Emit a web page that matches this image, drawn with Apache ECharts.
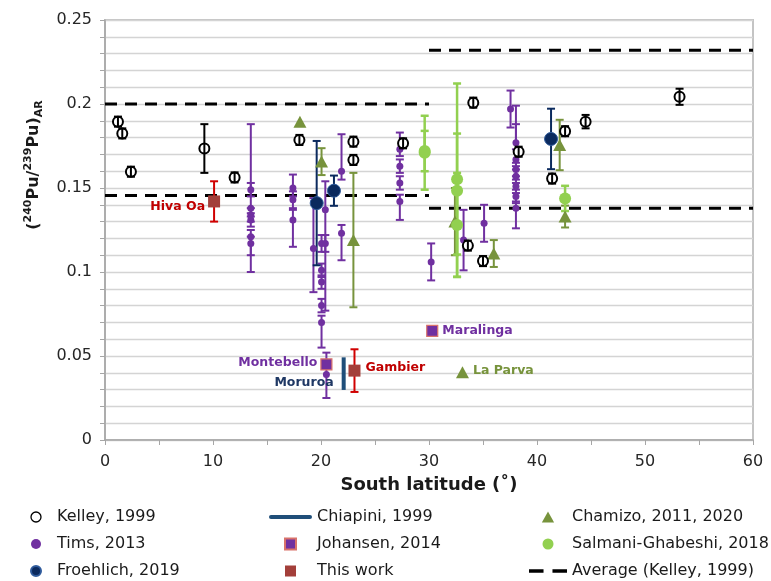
<!DOCTYPE html>
<html>
<head>
<meta charset="utf-8">
<script src="https://cdn.jsdelivr.net/npm/echarts@6/dist/echarts.min.js"></script>
<style>
  html, body { margin: 0; padding: 0; background: #fff; }
  #chart { width: 771px; height: 581px; }
</style>
</head>
<body>
<div id="chart"></div>
<script>
// ---- 240Pu/239Pu atom ratios versus south latitude ----

// Kelley, 1999
const kelleyLat   = [1.2, 1.6, 2.4, 9.2, 12.0, 18.0, 23.0, 23.0, 27.6, 34.1, 33.6, 35.0, 38.3, 41.4, 42.6, 44.5, 53.2];
const kelleyRatio = [0.1895, 0.1825, 0.1597, 0.1735, 0.1563, 0.1786, 0.1776, 0.1667, 0.1766, 0.2008, 0.1157, 0.1065, 0.1716, 0.1556, 0.1838, 0.1895, 0.2043];
const kelleyErr   = [0.003, 0.003, 0.003, 0.0145, 0.003, 0.003, 0.003, 0.003, 0.003, 0.003, 0.003, 0.003, 0.003, 0.003, 0.003, 0.004, 0.0048];

// Tims, 2013
const timsLat      = [13.5, 13.5, 13.5, 13.5, 13.5, 13.5, 17.4, 17.4, 17.4, 19.3, 20.05, 20.05, 20.05, 20.05, 20.05, 20.4, 20.4, 21.9, 21.9, 20.5,
                      27.3, 27.3, 27.3, 27.3, 30.2, 33.2, 35.1, 37.55, 38.05, 38.05, 38.05, 38.05, 38.05, 38.05, 38.05];
const timsRatio    = [0.149, 0.138, 0.134, 0.131, 0.121, 0.117, 0.150, 0.143, 0.131, 0.114, 0.117, 0.101, 0.094, 0.080, 0.070, 0.137, 0.117, 0.160, 0.123, 0.039,
                      0.173, 0.163, 0.153, 0.142, 0.106, 0.119, 0.129, 0.197, 0.177, 0.167, 0.161, 0.157, 0.151, 0.145, 0.138];
const timsErrPlus  = [0.004, 0.050, 0.004, 0.004, 0.004, 0.004, 0.008, 0.005, 0.006, 0.030, 0.005, 0.004, 0.004, 0.004, 0.004, 0.017, 0.005, 0.022, 0.005, 0.013,
                      0.010, 0.004, 0.004, 0.004, 0.011, 0.018, 0.011, 0.011, 0.022, 0.021, 0.004, 0.004, 0.004, 0.004, 0.004];
const timsErrMinus = [0.004, 0.005, 0.004, 0.004, 0.021, 0.007, 0.005, 0.005, 0.016, 0.026, 0.005, 0.004, 0.004, 0.004, 0.015, 0.060, 0.005, 0.005, 0.016, 0.014,
                      0.004, 0.004, 0.004, 0.011, 0.011, 0.018, 0.011, 0.011, 0.004, 0.004, 0.004, 0.004, 0.004, 0.004, 0.012];

// Froehlich, 2019
const froehlichLat   = [19.6, 21.2, 41.3];
const froehlichRatio = [0.141, 0.1484, 0.1792];
const froehlichErr   = [0.037, 0.009, 0.018];

// Chiapini, 1999 (range only)
const chiapiniSite  = ['Moruroa'];
const chiapiniLat   = [22.1];
const chiapiniRatio = [0.0395];
const chiapiniErr   = [0.0097];

// Johansen, 2014
const johansenSite  = ['Montebello', 'Maralinga'];
const johansenLat   = [20.5, 30.3];
const johansenRatio = [0.045, 0.065];

// This work
const thisWorkSite  = ['Hiva Oa', 'Gambier'];
const thisWorkLat   = [10.1, 23.1];
const thisWorkRatio = [0.142, 0.0413];
const thisWorkErr   = [0.012, 0.0127];

// Chamizo, 2011, 2020
const chamizoSite  = ['', '', '', '', '', '', '', 'La Parva'];
const chamizoLat   = [18.05, 20.05, 23.0, 32.4, 36.0, 42.1, 42.6, 33.1];
const chamizoRatio = [0.1895, 0.1657, 0.119, 0.130, 0.111, 0.1756, 0.133, 0.0403];
const chamizoErr   = [0, 0.008, 0.040, 0.020, 0.008, 0.015, 0.0065, 0];

// Salmani-Ghabeshi, 2018
const salmaniLat      = [29.6, 29.6, 32.6, 32.6, 32.6, 42.6];
const salmaniRatio    = [0.171, 0.172, 0.1552, 0.1484, 0.128, 0.1438];
const salmaniErrPlus  = [0.022, 0.012, 0.057, 0.034, 0.031, 0.0075];
const salmaniErrMinus = [0.022, 0.012, 0.058, 0.038, 0.031, 0.0075];

// Average (Kelley, 1999): two latitude bands
const avgFrom  = [0, 0, 30, 30];
const avgTo    = [30, 30, 60, 60];
const avgValue = [0.200, 0.1455, 0.232, 0.138];

// Axis ticks
const latTicks   = { min: 0, max: 60, step: 10 };
const ratioTicks = { min: 0, max: 0.25, step: 0.05 };

// ---------------------------------------------------------------
const FONT = 'DejaVu Sans';
const C = {
  kelley: '#000000',
  tims: '#7030a0',
  froehlich: '#0b2a5e',
  chiapini: '#1f4e79',
  johansen: '#7030a0',
  thisWork: '#a33f3a',
  thisWorkBar: '#d00000',
  chamizo: '#77933c',
  salmani: '#92d050'
};

function errRows(lat, ratio, plus, minus) {
  const rows = [];
  lat.forEach((x, i) => {
    if (plus[i] + minus[i] > 0) rows.push([x, ratio[i] - minus[i], ratio[i] + plus[i]]);
  });
  return rows;
}

function errorBars(rows, color, width, cap, z) {
  return {
    type: 'custom', z: z, silent: true,
    dimensions: ['lat', 'low', 'high'],
    encode: { x: 0, y: [1, 2] },
    data: rows,
    renderItem: function (params, api) {
      const top = api.coord([api.value(0), api.value(2)]);
      const bot = api.coord([api.value(0), api.value(1)]);
      const style = { stroke: color, lineWidth: width, fill: null };
      return {
        type: 'group',
        children: [
          { type: 'line', shape: { x1: top[0], y1: top[1], x2: bot[0], y2: bot[1] }, style: style },
          { type: 'line', shape: { x1: top[0] - cap, y1: top[1], x2: top[0] + cap, y2: top[1] }, style: style },
          { type: 'line', shape: { x1: bot[0] - cap, y1: bot[1], x2: bot[0] + cap, y2: bot[1] }, style: style }
        ]
      };
    }
  };
}

function points(lat, ratio) {
  return lat.map((x, i) => [x, ratio[i]]);
}

const siteLabel = {
  'Hiva Oa':    { position: 'left',  distance: 3, offset: [0, 5],  color: '#c00000' },
  'Gambier':    { position: 'right', distance: 5, offset: [0, -3], color: '#c00000' },
  'Montebello': { position: 'left',  distance: 3, offset: [0, -2], color: '#7030a0' },
  'Maralinga':  { position: 'right', distance: 4, offset: [0, 0],  color: '#7030a0' },
  'La Parva':   { position: 'right', distance: 4, offset: [0, -2], color: '#77933c' }
};

function labelled(lat, ratio, sites) {
  return lat.map((x, i) => {
    const s = sites[i];
    const item = { value: [x, ratio[i]], name: s };
    if (s && siteLabel[s]) {
      const L = siteLabel[s];
      item.label = {
        show: true, formatter: '{b}', position: L.position, distance: L.distance, offset: L.offset,
        color: L.color, fontFamily: FONT, fontWeight: 'bold', fontSize: 12.5
      };
    }
    return item;
  });
}

const triangle = 'path://M5,0L10,9L0,9Z';
const square = 'path://M0,0H10V10H0Z';

const series = [];

// averages
avgFrom.forEach((f, i) => {
  series.push({
    type: 'line', name: 'Average (Kelley, 1999)', z: 1, silent: true,
    data: [[f, avgValue[i]], [avgTo[i], avgValue[i]]],
    symbol: 'none',
    itemStyle: { color: '#000' },
    lineStyle: { color: '#000', width: 3, type: [12, 8] }
  });
});

// scatter markers (first so the legend picks them up)
series.push({
  type: 'scatter', name: 'Kelley, 1999', z: 6, symbol: 'circle', symbolSize: 10,
  itemStyle: { color: '#fff', borderColor: C.kelley, borderWidth: 2, opacity: 1 },
  data: points(kelleyLat, kelleyRatio)
});
series.push({
  type: 'scatter', name: 'Tims, 2013', z: 4, symbol: 'circle', symbolSize: 7,
  itemStyle: { color: C.tims, opacity: 1 },
  data: points(timsLat, timsRatio)
});
series.push({
  type: 'scatter', name: 'Froehlich, 2019', z: 5, symbol: 'circle', symbolSize: 13,
  itemStyle: { color: C.froehlich, borderColor: '#2f5b9c', borderWidth: 1, opacity: 1 },
  data: points(froehlichLat, froehlichRatio)
});
series.push({
  type: 'custom', name: 'Chiapini, 1999', z: 5, silent: true,
  dimensions: ['lat', 'low', 'high'],
  encode: { x: 0, y: [1, 2] },
  itemStyle: { color: C.chiapini },
  data: chiapiniLat.map((x, i) => [x, chiapiniRatio[i] - chiapiniErr[i], chiapiniRatio[i] + chiapiniErr[i]]),
  renderItem: function (params, api) {
    const top = api.coord([api.value(0), api.value(2)]);
    const bot = api.coord([api.value(0), api.value(1)]);
    const mid = (top[1] + bot[1]) / 2;
    return {
      type: 'group',
      children: [
        { type: 'line', shape: { x1: top[0], y1: top[1], x2: bot[0], y2: bot[1] },
          style: { stroke: C.chiapini, lineWidth: 4 } },
        { type: 'text', x: top[0] - 10, y: mid + 9,
          style: { text: chiapiniSite[params.dataIndex], align: 'right', verticalAlign: 'middle',
                   fill: '#1f3864', fontFamily: FONT, fontWeight: 'bold', fontSize: 12.5 } }
      ]
    };
  }
});
series.push({
  type: 'scatter', name: 'Johansen, 2014', z: 7, symbol: 'rect', symbolSize: 11,
  itemStyle: { color: C.johansen, borderColor: '#d9736b', borderWidth: 1.2, opacity: 1 },
  data: labelled(johansenLat, johansenRatio, johansenSite)
});
series.push({
  type: 'scatter', name: 'This work', z: 7, symbol: 'rect', symbolSize: 12,
  itemStyle: { color: C.thisWork, opacity: 1 },
  data: labelled(thisWorkLat, thisWorkRatio, thisWorkSite)
});
series.push({
  type: 'scatter', name: 'Chamizo, 2011, 2020', z: 5, symbol: 'triangle', symbolSize: [13, 12],
  itemStyle: { color: C.chamizo, opacity: 1 },
  data: labelled(chamizoLat, chamizoRatio, chamizoSite)
});
series.push({
  type: 'scatter', name: 'Salmani-Ghabeshi, 2018', z: 5, symbol: 'circle', symbolSize: 12,
  itemStyle: { color: C.salmani, opacity: 1 },
  data: points(salmaniLat, salmaniRatio)
});

// error bars
series.push(errorBars(errRows(timsLat, timsRatio, timsErrPlus, timsErrMinus), C.tims, 2, 4, 3));
series.push(errorBars(errRows(chamizoLat, chamizoRatio, chamizoErr, chamizoErr), C.chamizo, 2, 4, 3));
series.push(errorBars(errRows(salmaniLat, salmaniRatio, salmaniErrPlus, salmaniErrMinus), C.salmani, 2.5, 4, 3));
series.push(errorBars(errRows(froehlichLat, froehlichRatio, froehlichErr, froehlichErr), C.froehlich, 2, 4, 3));
series.push(errorBars(errRows(thisWorkLat, thisWorkRatio, thisWorkErr, thisWorkErr), C.thisWorkBar, 2, 4, 6));
series.push(errorBars(errRows(kelleyLat, kelleyRatio, kelleyErr, kelleyErr), C.kelley, 2, 4, 8));

const legendText = { fontFamily: FONT, fontSize: 16, color: '#1a1a1a', lineHeight: 18 };
const legendBase = { orient: 'vertical', top: 508, height: 73, itemGap: 9, itemHeight: 11, textStyle: legendText,
                     selectedMode: false, padding: 0, symbolKeepAspect: true };

const option = {
  animation: false,
  backgroundColor: '#fff',
  textStyle: { fontFamily: FONT },
  grid: { left: 105, top: 20, width: 648, height: 420, show: true, borderColor: '#c4c4c4', borderWidth: 2 },
  xAxis: {
    type: 'value', min: latTicks.min, max: latTicks.max, interval: latTicks.step,
    name: 'South latitude (˚)', nameLocation: 'middle', nameGap: 36,
    nameTextStyle: { fontFamily: FONT, fontSize: 18, fontWeight: 'bold', color: '#1a1a1a' },
    axisLine: { show: true, lineStyle: { color: '#a6a6a6', width: 1.5 } },
    axisTick: { show: true, length: 5, lineStyle: { color: '#a6a6a6' } },
    minorTick: { show: true, splitNumber: 2, length: 5, lineStyle: { color: '#a6a6a6' } },
    axisLabel: { fontFamily: FONT, fontSize: 16, color: '#262626', margin: 14 },
    splitLine: { show: false }
  },
  yAxis: {
    type: 'value', min: ratioTicks.min, max: ratioTicks.max, interval: ratioTicks.step,
    axisLine: { show: true, lineStyle: { color: '#a6a6a6', width: 1.5 } },
    axisTick: { show: true, length: 5, lineStyle: { color: '#a6a6a6' } },
    minorTick: { show: true, splitNumber: 5, length: 5, lineStyle: { color: '#a6a6a6' } },
    axisLabel: { fontFamily: FONT, fontSize: 16, color: '#262626', margin: 13 },
    splitLine: { show: true, lineStyle: { color: '#d4d4d4', width: 1.3 } },
    minorSplitLine: { show: true, lineStyle: { color: '#d4d4d4', width: 1.3 } }
  },
  legend: [
    Object.assign({}, legendBase, { left: 30, itemWidth: 32, itemHeight: 10,
      data: [
        { name: 'Kelley, 1999', icon: 'circle', itemStyle: { borderWidth: 1.3 } },
        { name: 'Tims, 2013', icon: 'circle' },
        { name: 'Froehlich, 2019', icon: 'circle' }
      ] }),
    Object.assign({}, legendBase, { left: 269, itemWidth: 43,
      data: [
        { name: 'Chiapini, 1999', icon: 'path://M2,0H41A2,2,0,0,1,41,4H2A2,2,0,0,1,2,0Z' },
        { name: 'Johansen, 2014', icon: square },
        { name: 'This work', icon: square }
      ] }),
    Object.assign({}, legendBase, { left: 529, itemWidth: 38,
      data: [
        { name: 'Chamizo, 2011, 2020', icon: triangle },
        { name: 'Salmani-Ghabeshi, 2018', icon: 'circle' },
        { name: 'Average (Kelley, 1999)', icon: 'path://M0,0H13V3H0ZM21,0H34V3H21Z' }
      ] })
  ],
  graphic: [
    {
      type: 'text', x: 34, y: 165, rotation: Math.PI / 2, silent: true,
      style: {
        text: '({sup|240}Pu/{sup|239}Pu){sub|AR}',
        align: 'center', verticalAlign: 'middle',
        fontFamily: FONT, fontSize: 16, fontWeight: 'bold', fill: '#1a1a1a',
        rich: {
          sup: { fontFamily: FONT, fontSize: 11, fontWeight: 'bold', verticalAlign: 'top', lineHeight: 22, fill: '#1a1a1a' },
          sub: { fontFamily: FONT, fontSize: 11, fontWeight: 'bold', verticalAlign: 'bottom', lineHeight: 22, fill: '#1a1a1a' }
        }
      }
    }
  ],
  series: series
};

const chart = echarts.init(document.getElementById('chart'));
chart.setOption(option);
</script>
</body>
</html>
